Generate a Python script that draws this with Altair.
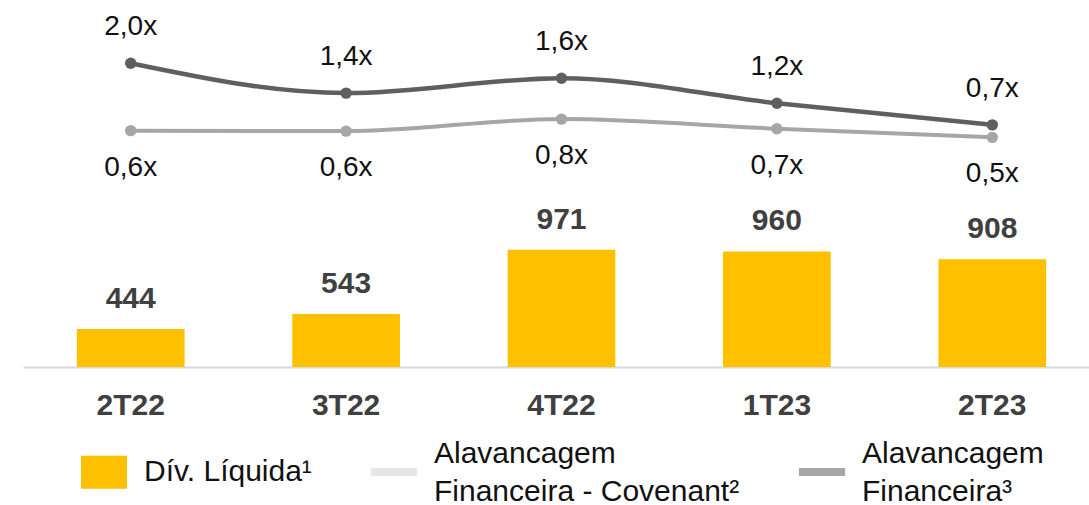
import altair as alt
import pandas as pd

# ---- data ----
cats = ["2T22", "3T22", "4T22", "1T23", "2T23"]
div_liquida = [444, 543, 971, 960, 908]
alav_covenant = [2.00, 1.38, 1.69, 1.17, 0.72]      # dark line
alav_financeira = [0.60, 0.59, 0.84, 0.64, 0.46]    # light line
alav_covenant_labels = ["2,0x", "1,4x", "1,6x", "1,2x", "0,7x"]
alav_financeira_labels = ["0,6x", "0,6x", "0,8x", "0,7x", "0,5x"]
legend_names = ["Dív. Líquida¹", "Alavancagem|Financeira - Covenant²", "Alavancagem|Financeira³"]
legend_colors = ["#FFC000", "#E7E6E6", "#A6A6A6"]
legend_shapes = ["M-1,-0.717H1V0.717H-1Z", "M-1,0.61H1V0.96H-1Z", "M-1,0.61H1V0.96H-1Z"]

df = pd.DataFrame({
    "cat": cats,
    "div": div_liquida,
    "cov": alav_covenant,
    "fin": alav_financeira,
    "cov_lbl": alav_covenant_labels,
    "fin_lbl": alav_financeira_labels,
})
df_leg = pd.DataFrame({"serie": legend_names})

FONT = "Liberation Sans"

x = alt.X(
    "cat:N", sort=cats,
    scale=alt.Scale(range=[0, 1077], paddingInner=0.5, paddingOuter=0.25),
    axis=alt.Axis(title=None, labelAngle=0, domain=True, domainColor="#D9D9D9", domainWidth=2,
                  ticks=False, tickSize=0, grid=False, labelFont=FONT, labelFontSize=30,
                  labelFontWeight="bold", labelColor="#404040", labelPadding=38,
                  labelBaseline="middle"),
)

ybar = alt.Y("div:Q", scale=alt.Scale(domain=[191, 2634]), axis=None)
line_dom = [-4.314, 3.316]

legend = alt.Legend(
    title=None, orient="none", legendX=58, legendY=431, direction="horizontal",
    labelExpr="split(datum.label, '|')", labelFont=FONT, labelFontSize=30,
    labelColor="#111111", labelLimit=600, symbolSize=2116, symbolStrokeWidth=0,
    labelOffset=17, columnPadding=59,
)

legend_layer = alt.Chart(df_leg).mark_point(filled=True, size=0, opacity=1).encode(
    color=alt.Color("serie:N", scale=alt.Scale(domain=legend_names, range=legend_colors), legend=legend),
    shape=alt.Shape("serie:N", scale=alt.Scale(domain=legend_names, range=legend_shapes), legend=legend),
)

bars = alt.Chart(df).mark_bar(clip=True, color="#FFC000").encode(x=x, y=ybar)
bar_lbl = alt.Chart(df).mark_text(dy=-30, baseline="middle", font=FONT, fontSize=30,
                                  fontWeight="bold", color="#404040").encode(
    x=x, y=ybar, text="div:Q")

def series(field, lbl, color, dy, width):
    y = alt.Y(f"{field}:Q", scale=alt.Scale(domain=line_dom), axis=None)
    ln = alt.Chart(df).mark_line(interpolate="monotone", color=color, strokeWidth=width).encode(x=x, y=y)
    pt = alt.Chart(df).mark_circle(size=130, color=color, opacity=1).encode(x=x, y=y)
    tx = alt.Chart(df).mark_text(dy=dy, baseline="middle", font=FONT, fontSize=28,
                                 color="#111111").encode(x=x, y=y, text=f"{lbl}:N")
    return [ln, pt, tx]

layers = [bars, bar_lbl] + series("fin", "fin_lbl", "#A6A6A6", 37, 4) + \
    series("cov", "cov_lbl", "#5F5F5F", -36, 4.5) + [legend_layer]

chart = alt.layer(*layers).resolve_scale(y="independent").properties(
    width=1066, height=367,
    padding={"left": 23, "top": 0, "right": 0, "bottom": 138},
    autosize=alt.AutoSizeParams(type="none"),
).configure(
    style={"guide-label": {"lineHeight": 38}},
    view=alt.ViewConfig(strokeWidth=0),
)

chart.save("out.html", embed_options={"renderer": "svg", "actions": False})
